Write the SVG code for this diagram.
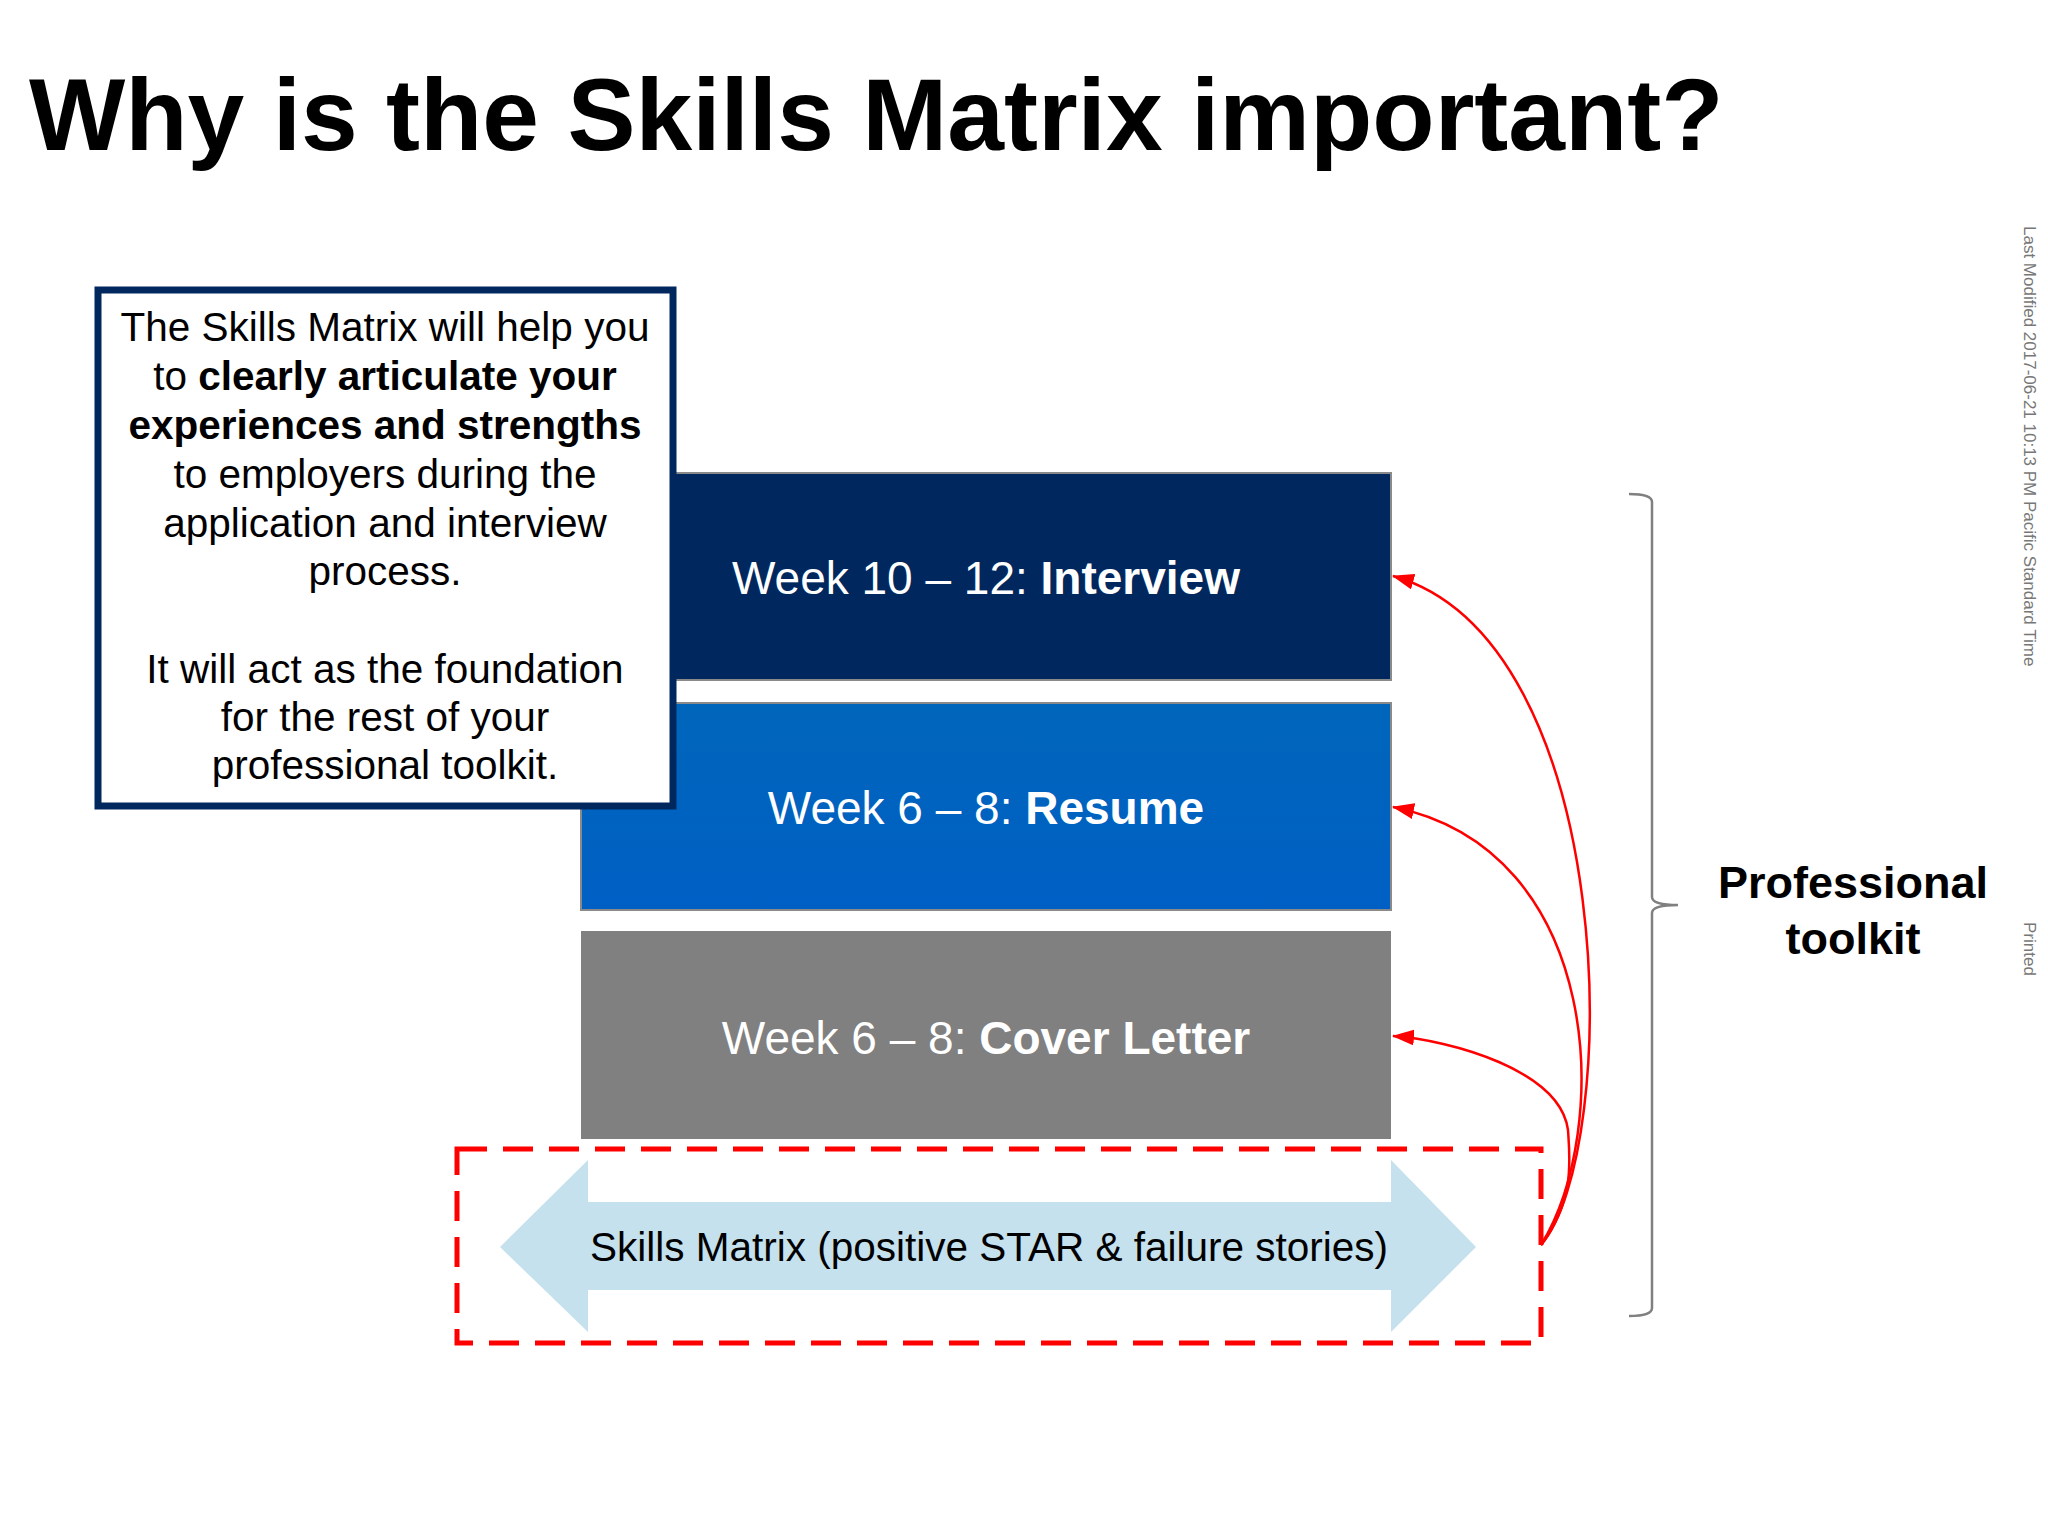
<svg xmlns="http://www.w3.org/2000/svg" width="2048" height="1536" viewBox="0 0 2048 1536">
<defs>
<style>
text{font-family:"Liberation Sans",Arial,sans-serif}
.wk{fill:#fff;font-size:46px;text-anchor:middle}
.bx{fill:#000;font-size:40.5px;text-anchor:middle}
.cv{fill:none;stroke:#f00;stroke-width:2.5}
</style>
<marker id="a2" viewBox="0 0 22 16" refX="21" refY="8" markerWidth="22" markerHeight="16" orient="auto" markerUnits="userSpaceOnUse"><path d="M0,0L22,8L0,16z" fill="#f00"/></marker>
<linearGradient id="g" x1="0" y1="0" x2="0" y2="1"><stop offset="0" stop-color="#0066bb"/><stop offset="1" stop-color="#005fc4"/></linearGradient>
</defs>
<rect width="2048" height="1536" fill="#fff"/>
<text x="29" y="150" font-size="102" font-weight="bold">Why is the Skills Matrix important?</text>
<g id="interview"><rect x="581" y="473" width="810" height="207" fill="#00285e" stroke="#8a8a8a" stroke-width="2"/><text class="wk" x="986" y="594">Week 10 – 12: <tspan font-weight="bold">Interview</tspan></text></g>
<g id="resume"><rect x="581" y="703" width="810" height="207" fill="url(#g)" stroke="#8a8a8a" stroke-width="2"/><text class="wk" x="986" y="824">Week 6 – 8: <tspan font-weight="bold">Resume</tspan></text></g>
<g id="cover"><rect x="581" y="931" width="810" height="208" fill="#808080"/><text class="wk" x="986" y="1054">Week 6 – 8: <tspan font-weight="bold">Cover Letter</tspan></text></g>
<g id="matrix">
<rect x="457" y="1149" width="1084" height="194" fill="none" stroke="#f00" stroke-width="5" stroke-dasharray="30,16"/>
<polygon points="500,1247 588,1160 588,1202 1391,1202 1391,1160 1476,1247 1391,1332 1391,1290 588,1290 588,1332" fill="#c5e1ed"/>
<text x="989" y="1261" font-size="40.5" text-anchor="middle">Skills Matrix (positive STAR &amp; failure stories)</text>
</g>
<g id="infobox">
<rect x="98" y="290" width="575" height="516" fill="#fff" stroke="#00285e" stroke-width="7"/>
<text class="bx" x="385" y="341">The Skills Matrix will help you</text>
<text class="bx" x="385" y="390">to <tspan font-weight="bold">clearly articulate your</tspan></text>
<text class="bx" x="385" y="439" font-weight="bold">experiences and strengths</text>
<text class="bx" x="385" y="488">to employers during the</text>
<text class="bx" x="385" y="537">application and interview</text>
<text class="bx" x="385" y="585">process.</text>
<text class="bx" x="385" y="683">It will act as the foundation</text>
<text class="bx" x="385" y="731">for the rest of your</text>
<text class="bx" x="385" y="779">professional toolkit.</text>
</g>
<g id="toolkit">
<path d="M1629,494 Q1652,494 1652,502 L1652,897 Q1652,905 1678,905 Q1652,905 1652,913 L1652,1308 Q1652,1316 1629,1316" fill="none" stroke="#808080" stroke-width="2.5"/>
<text x="1853" y="898" font-size="45" font-weight="bold" text-anchor="middle">Professional</text>
<text x="1853" y="954" font-size="45" font-weight="bold" text-anchor="middle">toolkit</text>
</g>
<g id="connectors">
<path class="cv" marker-end="url(#a2)" d="M1541,1245 C1622,1150 1620,640 1393,576"/>
<path class="cv" marker-end="url(#a2)" d="M1541,1245 C1612,1130 1605,850 1393,807"/>
<path class="cv" marker-end="url(#a2)" d="M1541,1245 C1575,1200 1570,1160 1568,1130 C1560,1070 1450,1040 1393,1036"/>
</g>
<g fill="#777" font-size="17">
<text transform="translate(2024,226) rotate(90)">Last Modified 2017-06-21 10:13 PM Pacific Standard Time</text>
<text transform="translate(2024,922) rotate(90)">Printed</text>
</g>
</svg>
